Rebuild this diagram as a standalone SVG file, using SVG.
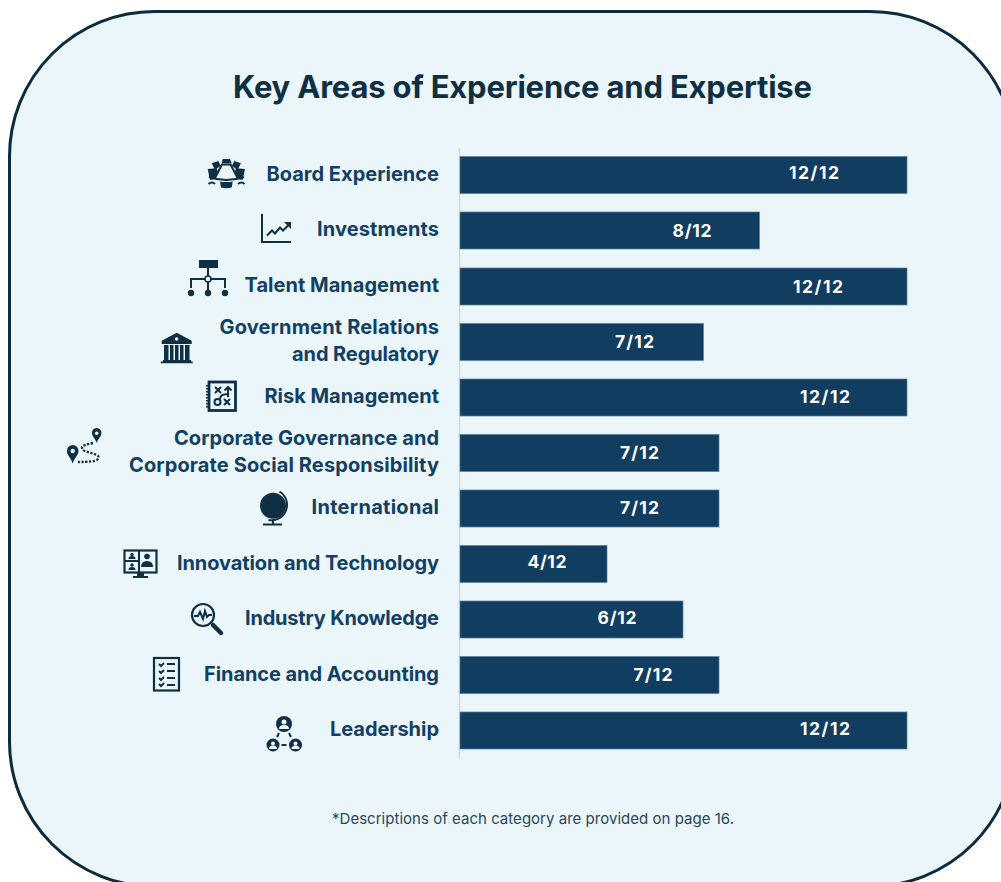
<svg xmlns="http://www.w3.org/2000/svg" width="1001" height="882" viewBox="0 0 1001 882">
<style>
.l{font:700 20px Inter,"Open Sans","Liberation Sans",sans-serif;fill:#123f63;text-anchor:end}
.v{font:700 17.500px Inter,"Open Sans","Liberation Sans",sans-serif;fill:#fff;text-anchor:middle}
.b{fill:#113d60;stroke:#5d7f97;stroke-width:.7}
.i{fill:#0f3044;stroke:none}
.s{fill:none;stroke:#0f3044;stroke-width:2}
.w{fill:#eaf6f9;stroke:none}
</style>
<rect x="9.500" y="11.500" width="1006" height="875" rx="145" ry="145" fill="#eaf6f9" stroke="#0e2b3e" stroke-width="3"/>
<text x="522.500" y="98" text-anchor="middle" textLength="579" style="font:700 31px Inter,'Open Sans','Liberation Sans',sans-serif;fill:#0f3044">Key Areas of Experience and Expertise</text>
<line x1="459.500" y1="148" x2="459.500" y2="758" stroke="#d4d9db" stroke-width="1.500"/>

<g id="row-board"><rect class="b" x="460" y="156.500" width="447" height="37"/><text class="v" x="814" y="179" textLength="50">12/12</text><text class="l" x="439" y="181" textLength="172.500">Board Experience</text>
<g><path class="i" d="M207.700 169l9-.7 1 3-3.400 8-4.300.7zM211.700 163.300l6.600-2.300 2.400 4.700-5.700 4.300zM222.700 159h7.300l1.700 4.300h-10zM234.300 161l6.600 2.300-3.300 6.700-5.700-4.300zM236 168.300l9 .7-2.300 11-4.300-.7-3.400-8z"/><path class="s" stroke-width="1.500" d="M215 178l7-13.500h8.600l7 13.500"/><path class="s" stroke-width="1.800" d="M209 177q17 6 35 0"/><path class="i" d="M220 181.500q6 1 12.700 0l-1 6q-5.500 1.500-10.700 0z"/><path class="s" stroke-width="1" d="M208.500 184q3.500-3 6.500 0M238 184q3.500-3 6.500 0"/></g></g>

<g id="row-investments"><rect class="b" x="460" y="212" width="299.500" height="37"/><text class="v" x="692" y="237" textLength="39">8/12</text><text class="l" x="439" y="236" textLength="122">Investments</text>
<g><path class="s" d="M262 214v28h29"/><path class="s" d="M267 235.500l5-5 3 3 5-6 3 3 6-6" stroke-width="2.200"/><path class="i" d="M284 222h7v7z"/></g></g>

<g id="row-talent"><rect class="b" x="460" y="268" width="447" height="37"/><text class="v" x="818" y="293" textLength="50">12/12</text><text class="l" x="439" y="292" textLength="194.500">Talent Management</text>
<g><rect class="i" x="199" y="260" width="19" height="8"/><path class="s" d="M208 268v24M191 288v-9h34v9"/><circle cx="208" cy="279" r="3" fill="#eaf6f9" stroke="#0f3044" stroke-width="1.500"/><circle class="i" cx="191" cy="293" r="3.200"/><circle class="i" cx="208" cy="293" r="3.200"/><circle class="i" cx="225" cy="293" r="3.200"/></g></g>

<g id="row-government"><rect class="b" x="460" y="323.500" width="243.500" height="37"/><text class="v" x="634.500" y="348" textLength="39">7/12</text><text class="l" x="439" y="334" textLength="219.500">Government Relations</text><text class="l" x="439" y="361" textLength="147">and Regulatory</text>
<g><path class="i" d="M176.700 332.700l15 8v3.300h-30v-3.300zM164 345h4.500v15H164zM170 345h3.500v15H170zM175 345h3.500v15H175zM180 345h3.500v15H180zM185 345h4.500v15H185zM163 360h28v1.500h-28zM160.700 361.500h32v1.800h-32z"/><circle class="w" cx="176.700" cy="339" r="1.700"/></g></g>

<g id="row-risk"><rect class="b" x="460" y="379" width="447" height="37"/><text class="v" x="825" y="403" textLength="50">12/12</text><text class="l" x="439" y="403" textLength="174.500">Risk Management</text>
<g><rect x="209" y="382" width="26.500" height="28.500" fill="none" stroke="#0f3044" stroke-width="2.800"/><path d="M207 385v24" fill="none" stroke="#0f3044" stroke-width="2" stroke-dasharray="1.500 1.500"/><path class="s" stroke-width="1.700" d="M215 387l6 6M221 387l-6 6M224 399l6 6M230 399l-6 6M228 397v-10M224.500 390.500l3.500-3.500 3.500 3.500M228 394q-8 0-8 5"/><circle cx="217.500" cy="402" r="3" class="s" stroke-width="1.700"/></g></g>

<g id="row-governance"><rect class="b" x="460" y="434.500" width="259" height="37"/><text class="v" x="639.500" y="459" textLength="39">7/12</text><text class="l" x="439" y="445" textLength="265">Corporate Governance and</text><text class="l" x="439" y="472" textLength="310">Corporate Social Responsibility</text>
<g><path class="i" d="M72.700 445a5.800 5.800 0 0 1 5.800 6c0 4-3.500 6-5.800 12.500-2.300-6.500-5.800-8.500-5.800-12.500a5.800 5.800 0 0 1 5.800-6z"/><circle class="w" cx="72.700" cy="451" r="2.200"/><path class="i" d="M96.700 428a4.700 4.700 0 0 1 4.700 5.300c0 3-2.700 4.500-4.700 9.500-2-5-4.700-6.500-4.700-9.500a4.700 4.700 0 0 1 4.700-5.300z"/><circle class="w" cx="96.700" cy="433.300" r="1.800"/><path d="M93 443q-10 2-11 4 0 3 3 4l12 4q3 2 0 5-3 2-19 2" fill="none" stroke="#0f3044" stroke-width="2.300" stroke-dasharray="2.300 1.500"/></g></g>

<g id="row-international"><rect class="b" x="460" y="490" width="259" height="37"/><text class="v" x="639.500" y="514" textLength="39">7/12</text><text class="l" x="439" y="514" textLength="127.500">International</text>
<g><circle class="i" cx="273" cy="505.700" r="13"/><path class="s" stroke-width="1.200" d="M279.500 491.500a15.500 15.500 0 0 1-11 28.500"/><path class="s" d="M273 520v3.500M263 524.500h19"/></g></g>

<g id="row-innovation"><rect class="b" x="460" y="545.500" width="147" height="37"/><text class="v" x="547" y="568" textLength="39">4/12</text><text class="l" x="439" y="570" textLength="262">Innovation and Technology</text>
<g><rect x="124.500" y="550.500" width="32" height="22" fill="none" stroke="#0f3044" stroke-width="2.200"/><path class="s" d="M139 550v22M125 561h14" stroke-width="1.500"/><circle class="i" cx="147" cy="556.500" r="2.800"/><path class="i" d="M141 567q0-6 6-6t6 6z"/><circle class="i" cx="132" cy="554.500" r="1.700"/><path class="i" d="M128.500 559q0-3 3.500-3t3.500 3z"/><circle class="i" cx="132" cy="565" r="1.700"/><path class="i" d="M128.500 570q0-3 3.500-3t3.500 3z"/><path class="i" d="M137 573h7v3h-7zM133 576h15v2h-15z"/></g></g>

<g id="row-industry"><rect class="b" x="460" y="601" width="223" height="37"/><text class="v" x="617" y="624" textLength="39">6/12</text><text class="l" x="439" y="625" textLength="194">Industry Knowledge</text>
<g><circle cx="203" cy="615" r="11" fill="none" stroke="#0f3044" stroke-width="2.200"/><path class="s" stroke-width="1.200" d="M194 616h4l2-4 3 7 2-8 2 6 2-2h3"/><path d="M213 625l8 8" stroke="#0f3044" stroke-width="4.500" stroke-linecap="round"/></g></g>

<g id="row-finance"><rect class="b" x="460" y="656.500" width="259" height="37"/><text class="v" x="653" y="681" textLength="39">7/12</text><text class="l" x="439" y="681" textLength="235">Finance and Accounting</text>
<g><rect x="154" y="658" width="25" height="32.500" fill="none" stroke="#0f3044" stroke-width="2.200"/><path class="s" stroke-width="1.600" d="M159 664l2 2 3-3M159 671l2 2 3-3M159 678l2 2 3-3M159 684l2 2 3-3M167 664h8M167 671h8M167 678h8M167 685h8"/></g></g>

<g id="row-leadership"><rect class="b" x="460" y="712" width="447" height="37"/><text class="v" x="825" y="735" textLength="50">12/12</text><text class="l" x="439" y="736" textLength="109">Leadership</text>
<g><circle class="i" cx="284" cy="724" r="8"/><circle class="i" cx="273" cy="745" r="6.500"/><circle class="i" cx="295.500" cy="745" r="6.500"/><circle class="w" cx="284" cy="722" r="2.500"/><path class="w" d="M279 729q0-4 5-4t5 4z"/><circle class="w" cx="273" cy="743.500" r="2"/><path class="w" d="M269 749q0-3.500 4-3.500t4 3.500z"/><circle class="w" cx="295.500" cy="743.500" r="2"/><path class="w" d="M291.500 749q0-3.500 4-3.500t4 3.500z"/><path class="s" stroke-width="1.800" d="M279 733l-2 4M289 733l2 4M281.500 745h5"/></g></g>

<text x="533" y="824" text-anchor="middle" textLength="402" style="font:400 15px Inter,'Open Sans','Liberation Sans',sans-serif;fill:#2b4657">*Descriptions of each category are provided on page 16.</text>
</svg>
